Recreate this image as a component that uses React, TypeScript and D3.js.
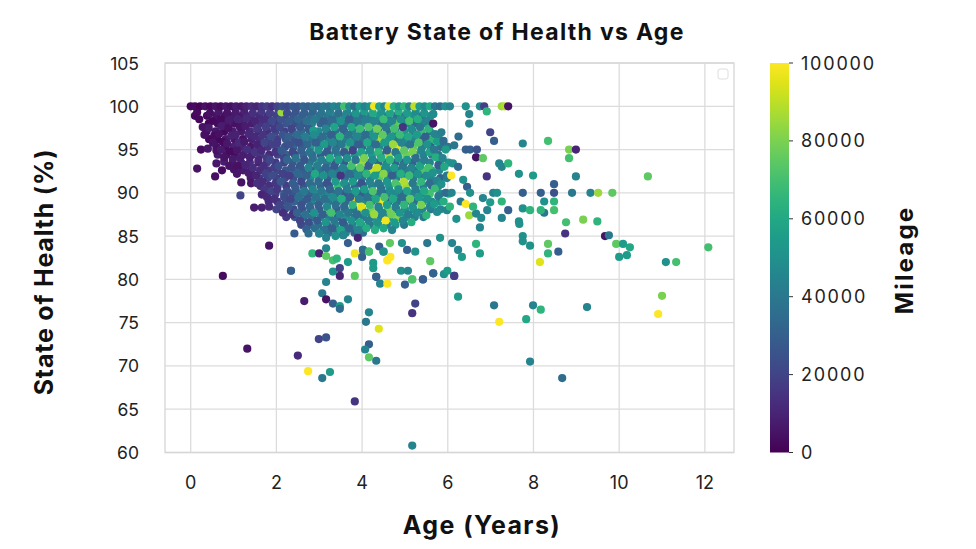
import React from "react";
import * as d3 from "d3";

// each point: [age (years), state of health (%), mileage (thousands)]
type Pt = [number, number, number];

const xTicks = [0, 2, 4, 6, 8, 10, 12];
const yTicks = [60, 65, 70, 75, 80, 85, 90, 95, 100, 105];
const mileageTicks = [0, 20000, 40000, 60000, 80000, 100000];

const topRowPoints: Pt[] = [
  [0.0, 100, 2], [0.1, 100, 3], [0.22, 100, 1], [0.34, 100, 4], [0.46, 100, 2], [0.58, 100, 5],
  [0.7, 100, 3], [0.82, 100, 6], [0.94, 100, 4], [1.06, 100, 8], [1.18, 100, 6], [1.3, 100, 9],
  [1.42, 100, 12], [1.54, 100, 10], [1.66, 100, 15], [1.78, 100, 18], [1.9, 100, 14], [2.02, 100, 20],
  [2.14, 100, 24], [2.26, 100, 22], [2.38, 100, 28], [2.5, 100, 26], [2.62, 100, 32], [2.74, 100, 30],
  [2.86, 100, 36], [2.98, 100, 34], [3.1, 100, 40], [3.22, 100, 38], [3.34, 100, 45], [3.46, 100, 42],
  [3.58, 100, 70], [3.7, 100, 48], [3.82, 100, 36], [3.94, 100, 55], [4.06, 100, 44], [4.18, 100, 50],
  [4.28, 100, 98], [4.4, 100, 58], [4.52, 100, 46], [4.62, 100, 96], [4.74, 100, 62], [4.86, 100, 52],
  [4.98, 100, 66], [5.1, 100, 45], [5.22, 100, 90], [5.34, 100, 55], [5.46, 100, 48], [5.58, 100, 60],
  [5.7, 100, 40], [5.82, 100, 35], [5.94, 100, 50], [6.05, 100, 45], [6.42, 100, 50], [6.75, 100, 48],
  [6.85, 100, 18], [7.26, 100, 85], [7.33, 100, 88], [7.41, 100, 5],
];

const fillYoungPoints: Pt[] = [
  [0.1, 98.9, 2],
  [0.38, 98.9, 3], [0.42, 98.0, 1], [0.37, 97.1, 4], [0.43, 96.2, 2],
  [0.6, 98.9, 5], [0.63, 98.0, 3], [0.58, 97.1, 6], [0.62, 96.2, 2], [0.6, 95.3, 4], [0.63, 94.4, 7],
  [0.8, 98.9, 4], [0.83, 98.0, 6], [0.78, 97.1, 2], [0.82, 96.2, 7], [0.8, 95.3, 3], [0.83, 94.4, 5], [0.78, 93.6, 8],
  [1.0, 98.9, 7], [1.03, 98.0, 4], [0.98, 97.1, 8], [1.02, 96.2, 5], [1.0, 95.3, 9], [1.03, 94.4, 3], [0.98, 93.5, 6],
  [1.01, 92.7, 5],
  [1.2, 98.9, 6], [1.23, 98.0, 9], [1.18, 97.1, 7], [1.22, 96.2, 4], [1.2, 95.3, 10], [1.23, 94.4, 8], [1.18, 93.5, 11],
  [1.22, 92.6, 7],
  [1.4, 98.9, 10], [1.43, 98.0, 8], [1.38, 97.1, 12], [1.42, 96.2, 9], [1.4, 95.3, 6], [1.43, 94.4, 11], [1.38, 93.5, 13],
  [1.42, 92.6, 9], [1.4, 91.7, 7],
  [1.6, 98.9, 12], [1.63, 98.0, 15], [1.58, 97.1, 10], [1.62, 96.2, 14], [1.6, 95.3, 11], [1.63, 94.4, 17], [1.58, 93.5, 9],
  [1.62, 92.6, 13], [1.6, 91.7, 16], [1.63, 90.8, 12],
  [1.8, 98.9, 14], [1.83, 98.0, 17], [1.78, 97.1, 13], [1.82, 96.2, 19], [1.8, 95.3, 15], [1.83, 94.4, 12], [1.78, 93.5, 18],
  [1.82, 92.6, 16], [1.8, 91.7, 20], [1.83, 90.8, 14], [1.78, 89.9, 17], [1.82, 89.0, 12],
  [2.0, 98.9, 19], [2.03, 98.0, 16], [1.98, 97.1, 21], [2.02, 96.2, 18], [2.0, 95.3, 23], [2.03, 94.4, 20], [1.98, 93.5, 17],
  [2.02, 92.6, 22], [2.0, 91.7, 19], [2.03, 90.8, 24], [1.98, 89.9, 18], [2.02, 89.0, 15], [2.0, 88.1, 20],
];

const fillMidPoints: Pt[] = [
  [2.2, 98.9, 22], [2.23, 98.0, 26], [2.18, 97.1, 19], [2.22, 96.2, 28], [2.2, 95.3, 24], [2.23, 94.4, 31], [2.18, 93.5, 20],
  [2.22, 92.6, 27], [2.2, 91.7, 23], [2.23, 90.8, 18], [2.18, 89.9, 29], [2.22, 89.0, 25], [2.2, 88.1, 21], [2.23, 87.2, 17],
  [2.4, 98.9, 27], [2.43, 98.0, 23], [2.38, 97.1, 30], [2.42, 96.2, 25], [2.4, 95.3, 33], [2.43, 94.4, 21], [2.38, 93.5, 28],
  [2.42, 92.6, 35], [2.4, 91.7, 24], [2.43, 90.8, 30], [2.38, 89.9, 26], [2.42, 89.0, 32], [2.4, 88.1, 22], [2.43, 87.2, 28],
  [2.6, 98.9, 30], [2.63, 98.0, 26], [2.58, 97.1, 34], [2.62, 96.2, 38], [2.6, 95.3, 28], [2.63, 94.4, 32], [2.58, 93.5, 45],
  [2.62, 92.6, 29], [2.6, 91.7, 36], [2.63, 90.8, 27], [2.58, 89.9, 40], [2.62, 89.0, 31], [2.6, 88.1, 25], [2.63, 87.2, 34],
  [2.58, 86.3, 22],
  [2.8, 98.9, 35], [2.83, 98.0, 42], [2.78, 97.1, 30], [2.82, 96.2, 38], [2.8, 95.3, 55], [2.83, 94.4, 33], [2.78, 93.5, 40],
  [2.82, 92.6, 29], [2.8, 91.7, 48], [2.83, 90.8, 36], [2.78, 89.9, 31], [2.82, 89.0, 44], [2.8, 88.1, 27], [2.83, 87.2, 38],
  [2.78, 86.3, 33],
  [3.0, 98.9, 38], [3.03, 98.0, 33], [2.98, 97.1, 47], [3.02, 96.2, 35], [3.0, 95.3, 42], [3.03, 94.4, 28], [2.98, 93.5, 60],
  [3.02, 92.6, 37], [3.0, 91.7, 45], [3.03, 90.8, 32], [2.98, 89.9, 50], [3.02, 89.0, 39], [3.0, 88.1, 30], [3.03, 87.2, 44],
  [2.98, 86.3, 36],
  [3.2, 98.9, 40], [3.23, 98.0, 34], [3.18, 97.1, 36], [3.22, 96.2, 45], [3.2, 95.3, 30], [3.23, 94.4, 40], [3.18, 93.5, 41],
  [3.22, 92.6, 35], [3.2, 91.7, 30], [3.23, 90.8, 28], [3.18, 89.9, 46], [3.22, 89.0, 38], [3.2, 88.1, 72], [3.23, 87.2, 42],
  [3.18, 86.3, 33], [3.22, 85.4, 36],
  [3.4, 98.9, 45], [3.43, 98.0, 38], [3.38, 97.1, 36], [3.42, 96.2, 33], [3.4, 95.3, 32], [3.43, 94.4, 42], [3.38, 93.5, 25],
  [3.42, 92.6, 40], [3.4, 91.7, 40], [3.43, 90.8, 68], [3.38, 89.9, 35], [3.42, 89.0, 47], [3.4, 88.1, 30], [3.43, 87.2, 30],
  [3.38, 86.3, 44], [3.42, 85.4, 38],
  [3.6, 98.9, 48], [3.63, 98.0, 35], [3.58, 97.1, 32], [3.62, 96.2, 42], [3.6, 95.3, 70], [3.63, 94.4, 30], [3.58, 93.5, 28],
  [3.62, 92.6, 45], [3.6, 91.7, 38], [3.63, 90.8, 38], [3.58, 89.9, 28], [3.62, 89.0, 34], [3.6, 88.1, 42], [3.63, 87.2, 50],
  [3.58, 86.3, 35], [3.62, 85.4, 46],
  [3.8, 98.9, 40], [3.83, 98.0, 36], [3.78, 97.1, 45], [3.82, 96.2, 40], [3.8, 95.3, 35], [3.83, 94.4, 52], [3.78, 93.5, 80],
  [3.82, 92.6, 44], [3.8, 91.7, 30], [3.83, 90.8, 33], [3.78, 89.9, 48], [3.82, 89.0, 100], [3.8, 88.1, 38], [3.83, 87.2, 38],
  [3.78, 86.3, 45], [3.82, 85.4, 32],
  [4.0, 98.9, 38], [4.03, 98.0, 45], [3.98, 97.1, 44], [4.02, 96.2, 38], [4.0, 95.3, 34], [4.03, 94.4, 50], [3.98, 93.5, 85],
  [4.02, 92.6, 42], [4.0, 91.7, 40], [4.03, 90.8, 35], [3.98, 89.9, 30], [4.02, 89.0, 46], [4.0, 88.1, 75], [4.03, 87.2, 40],
  [3.98, 86.3, 52], [4.02, 85.4, 36],
];

const fillOldPoints: Pt[] = [
  [4.2, 98.9, 42], [4.23, 98.0, 48], [4.18, 97.1, 52], [4.22, 96.2, 42], [4.2, 95.3, 38], [4.23, 94.4, 55], [4.18, 93.5, 38],
  [4.22, 92.6, 92], [4.2, 91.7, 50], [4.23, 90.8, 44], [4.18, 89.9, 45], [4.22, 89.0, 34], [4.2, 88.1, 80], [4.23, 87.2, 48],
  [4.18, 86.3, 40],
  [4.4, 98.9, 52], [4.43, 98.0, 36], [4.38, 97.1, 44], [4.42, 96.2, 85], [4.4, 95.3, 46], [4.43, 94.4, 36], [4.38, 93.5, 30],
  [4.42, 92.6, 50], [4.4, 91.7, 75], [4.43, 90.8, 42], [4.38, 89.9, 38], [4.42, 89.0, 98], [4.4, 88.1, 48], [4.43, 87.2, 44],
  [4.38, 86.3, 55],
  [4.6, 98.9, 40], [4.63, 98.0, 48], [4.58, 97.1, 35], [4.62, 96.2, 55], [4.6, 95.3, 40], [4.63, 94.4, 88], [4.58, 93.5, 42],
  [4.62, 92.6, 45], [4.6, 91.7, 50], [4.63, 90.8, 52], [4.58, 89.9, 35], [4.62, 89.0, 30], [4.6, 88.1, 78], [4.63, 87.2, 50],
  [4.58, 86.3, 44],
  [4.8, 98.9, 36], [4.83, 98.0, 75], [4.78, 97.1, 45], [4.82, 96.2, 40], [4.8, 95.3, 95], [4.83, 94.4, 50], [4.78, 93.5, 32],
  [4.82, 92.6, 40], [4.8, 91.7, 46], [4.83, 90.8, 72], [4.78, 89.9, 48], [4.82, 89.0, 38], [4.8, 88.1, 44], [4.83, 87.2, 82],
  [4.78, 86.3, 52],
  [5.0, 98.9, 38], [5.03, 98.0, 45], [4.98, 97.1, 52], [5.02, 96.2, 52], [5.0, 95.3, 40], [5.03, 94.4, 78], [4.98, 93.5, 30],
  [5.02, 92.6, 42], [5.0, 91.7, 48], [5.03, 90.8, 85], [4.98, 89.9, 36], [5.02, 89.0, 42], [5.0, 88.1, 50], [5.03, 87.2, 50],
  [4.98, 86.3, 40],
  [5.2, 98.9, 50], [5.23, 98.0, 35], [5.18, 97.1, 42], [5.22, 96.2, 46], [5.2, 95.3, 75], [5.23, 94.4, 48], [5.18, 93.5, 32],
  [5.22, 92.6, 38], [5.2, 91.7, 42], [5.23, 90.8, 70], [5.18, 89.9, 45], [5.22, 89.0, 36], [5.2, 88.1, 52], [5.23, 87.2, 44],
  [5.4, 98.9, 38], [5.43, 98.0, 45], [5.38, 97.1, 68], [5.42, 96.2, 30], [5.4, 95.3, 40], [5.43, 94.4, 44], [5.38, 93.5, 48],
  [5.42, 92.6, 72], [5.4, 91.7, 36], [5.43, 90.8, 44], [5.38, 89.9, 48], [5.42, 89.0, 50], [5.4, 88.1, 46], [5.43, 87.2, 40],
  [5.6, 98.9, 48], [5.63, 98.0, 36], [5.58, 97.1, 42], [5.62, 96.2, 65], [5.6, 95.3, 30], [5.63, 94.4, 38], [5.58, 93.5, 44],
  [5.62, 92.6, 62], [5.6, 91.7, 45], [5.63, 90.8, 34], [5.58, 89.9, 70], [5.62, 89.0, 48], [5.6, 88.1, 40],
  [5.8, 96.2, 45], [5.83, 95.3, 36], [5.78, 94.4, 38], [5.82, 93.5, 60], [5.8, 92.6, 48], [5.83, 91.7, 32], [5.78, 90.8, 42],
  [5.82, 89.9, 48], [5.8, 89.0, 50], [5.83, 88.1, 46],
  [6.0, 95.3, 40], [6.02, 93.5, 52], [5.98, 91.7, 45], [6.02, 89.9, 58],
];

const youngPoints: Pt[] = [
  [0.15, 99.3, 3], [0.2, 98.5, 2], [0.28, 97.6, 5], [0.32, 96.7, 4], [0.24, 95.0, 3], [0.4, 95.1, 6],
  [0.45, 99.2, 4], [0.5, 98.3, 2], [0.42, 97.5, 7], [0.55, 96.6, 3], [0.52, 95.8, 5], [0.6, 94.9, 4],
  [0.6, 93.4, 6], [0.15, 92.8, 5], [0.57, 91.9, 4],
  [0.65, 99.4, 6], [0.7, 98.5, 3], [0.72, 97.7, 8], [0.66, 96.8, 4], [0.75, 95.9, 2], [0.7, 95.0, 7],
  [0.78, 94.1, 5], [0.73, 92.6, 3],
  [0.85, 99.2, 5], [0.9, 98.4, 8], [0.88, 97.5, 4], [0.95, 96.6, 9], [0.85, 95.7, 6], [0.92, 94.8, 3],
  [0.98, 93.9, 7], [0.9, 93.1, 5],
  [1.05, 99.3, 7], [1.1, 98.5, 10], [1.15, 97.6, 5], [1.05, 96.7, 9], [1.12, 95.8, 11], [1.08, 94.9, 6],
  [1.15, 94.0, 8], [1.1, 93.1, 4], [1.08, 92.2, 6], [1.18, 91.2, 5],
  [1.25, 99.4, 9], [1.3, 98.6, 12], [1.28, 97.7, 8], [1.35, 96.8, 11], [1.25, 95.9, 7], [1.32, 95.0, 13],
  [1.38, 94.1, 9], [1.28, 93.2, 10], [1.35, 92.3, 8], [1.41, 91.1, 6],
  [1.45, 99.2, 14], [1.5, 98.3, 10], [1.55, 97.4, 16], [1.48, 96.5, 12], [1.55, 95.6, 9], [1.5, 94.7, 15],
  [1.58, 93.8, 11], [1.45, 92.9, 13], [1.52, 92.0, 10], [1.55, 91.1, 14], [1.16, 89.7, 20], [1.48, 88.3, 8],
  [1.65, 99.4, 16], [1.7, 98.5, 13], [1.75, 97.6, 18], [1.68, 96.7, 15], [1.72, 95.8, 20], [1.65, 94.9, 12],
  [1.78, 94.0, 17], [1.7, 93.1, 14], [1.75, 92.2, 19], [1.68, 91.3, 13], [1.72, 90.4, 16], [1.66, 89.8, 10],
  [1.66, 88.3, 9], [1.78, 89.5, 11],
  [1.85, 99.2, 18], [1.9, 98.3, 22], [1.95, 97.4, 17], [1.88, 96.5, 24], [1.92, 95.6, 19], [1.98, 94.7, 15],
  [1.85, 93.8, 21], [1.95, 92.9, 18], [1.9, 92.0, 23], [1.98, 91.1, 16], [1.88, 90.2, 20], [1.95, 89.3, 14],
  [1.83, 88.4, 12], [1.83, 83.9, 5], [0.75, 80.4, 3], [1.32, 72.0, 5],
];

const midPoints: Pt[] = [
  [2.05, 99.4, 20], [2.1, 98.5, 25], [2.12, 99.3, 85], [2.08, 97.6, 22], [2.15, 96.7, 26], [2.02, 95.8, 18],
  [2.12, 94.9, 28], [2.18, 94.0, 21], [2.05, 93.1, 24], [2.15, 92.2, 19], [2.1, 91.3, 27], [2.02, 90.4, 16],
  [2.18, 89.5, 23], [2.08, 88.6, 20], [2.15, 87.7, 14],
  [2.25, 99.2, 24], [2.3, 98.3, 28], [2.35, 97.4, 20], [2.28, 96.5, 30], [2.32, 95.6, 25], [2.38, 94.7, 22],
  [2.25, 93.8, 32], [2.35, 92.9, 26], [2.3, 92.0, 18], [2.38, 91.1, 29], [2.25, 90.2, 24], [2.33, 89.3, 21],
  [2.28, 88.4, 27], [2.38, 87.5, 15], [2.34, 81.0, 30],
  [2.45, 99.4, 26], [2.5, 98.5, 32], [2.55, 97.6, 28], [2.48, 96.7, 35], [2.52, 95.8, 24], [2.58, 94.9, 30],
  [2.45, 94.0, 38], [2.55, 93.1, 27], [2.5, 92.2, 33], [2.58, 91.3, 22], [2.45, 90.4, 29], [2.52, 89.5, 36],
  [2.58, 88.6, 25], [2.48, 87.7, 31], [2.55, 86.8, 20], [2.42, 85.3, 28], [2.5, 71.2, 12], [2.65, 77.5, 8],
  [2.65, 99.2, 30], [2.7, 98.3, 36], [2.75, 97.4, 28], [2.68, 96.5, 42], [2.72, 95.6, 33], [2.78, 94.7, 38],
  [2.65, 93.8, 26], [2.75, 92.9, 45], [2.7, 92.0, 31], [2.78, 91.1, 35], [2.65, 90.2, 40], [2.72, 89.3, 28],
  [2.78, 88.4, 33], [2.68, 87.5, 37], [2.75, 86.6, 24], [2.7, 85.8, 30], [2.75, 85.3, 35], [2.74, 69.4, 100],
  [2.85, 99.4, 32], [2.9, 98.5, 40], [2.86, 97.2, 55], [2.88, 96.7, 48], [2.92, 95.8, 30], [2.98, 94.9, 52],
  [2.85, 94.0, 36], [2.95, 93.1, 42], [2.9, 92.2, 60], [2.98, 91.3, 34], [2.85, 90.4, 45], [2.92, 89.5, 38],
  [2.98, 88.6, 30], [2.88, 87.7, 50], [2.95, 86.8, 28], [2.9, 85.9, 36], [3.0, 85.3, 48], [2.84, 83.0, 65],
  [3.0, 83.0, 10], [2.99, 73.1, 20],
  [3.05, 99.2, 38], [3.1, 98.3, 30], [3.15, 97.4, 45], [3.08, 96.5, 35], [3.12, 95.6, 55], [3.18, 94.7, 28],
  [3.05, 93.8, 42], [3.15, 92.9, 33], [3.1, 92.0, 50], [3.18, 91.1, 25], [3.05, 90.2, 40], [3.12, 89.3, 36],
  [3.18, 88.4, 47], [3.08, 87.5, 30], [3.15, 86.6, 52], [3.1, 85.7, 38], [3.16, 84.8, 44], [3.16, 83.6, 45],
  [3.07, 78.4, 40], [3.16, 79.7, 45], [3.16, 77.7, 5], [3.16, 82.7, 75], [3.07, 68.6, 40], [3.16, 73.3, 25],
  [3.25, 69.3, 55],
  [3.25, 99.4, 42], [3.3, 98.5, 35], [3.35, 97.6, 58], [3.28, 96.7, 30], [3.32, 95.8, 46], [3.38, 94.9, 38],
  [3.25, 94.0, 62], [3.35, 93.1, 28], [3.3, 92.2, 44], [3.38, 91.3, 55], [3.25, 90.4, 32], [3.32, 89.5, 48],
  [3.38, 88.6, 36], [3.28, 87.7, 70], [3.35, 86.8, 40], [3.3, 85.9, 30], [3.38, 85.0, 50], [3.32, 82.2, 70],
  [3.32, 80.9, 50], [3.32, 77.2, 30],
  [3.45, 99.2, 36], [3.5, 98.3, 50], [3.55, 97.4, 32], [3.48, 96.5, 65], [3.52, 95.6, 40], [3.58, 94.7, 28],
  [3.45, 93.8, 55], [3.55, 92.9, 44], [3.5, 92.0, 15], [3.58, 91.1, 50], [3.45, 90.2, 38], [3.52, 89.3, 62],
  [3.58, 88.4, 34], [3.48, 87.5, 45], [3.55, 86.6, 28], [3.5, 85.7, 58], [3.56, 85.1, 45], [3.41, 82.4, 65],
  [3.48, 81.3, 20], [3.48, 80.4, 10], [3.48, 76.9, 55], [3.48, 76.6, 35],
  [3.65, 99.4, 45], [3.7, 98.5, 30], [3.75, 97.6, 60], [3.68, 96.7, 38], [3.72, 95.8, 52], [3.78, 94.9, 20],
  [3.65, 94.0, 48], [3.75, 93.1, 70], [3.7, 92.2, 35], [3.78, 91.3, 55], [3.65, 90.4, 42], [3.72, 89.5, 30],
  [3.78, 88.6, 65], [3.68, 87.7, 40], [3.75, 86.8, 50], [3.7, 85.9, 33], [3.67, 84.2, 30], [3.67, 82.0, 55],
  [3.67, 77.7, 45],
  [3.85, 99.2, 52], [3.9, 98.3, 40], [3.95, 97.4, 68], [3.88, 96.5, 45], [3.92, 95.6, 30], [3.98, 94.7, 58],
  [3.85, 93.8, 38], [3.95, 92.9, 75], [3.9, 92.0, 48], [3.98, 91.1, 25], [3.85, 90.2, 55], [3.92, 89.3, 42],
  [3.98, 88.4, 95], [3.88, 87.5, 36], [3.95, 86.6, 60], [3.9, 85.7, 45], [3.9, 84.8, 10], [3.83, 83.0, 98],
  [3.83, 80.4, 75], [3.83, 65.9, 15],
];

const olderPoints: Pt[] = [
  [4.05, 99.4, 55], [4.1, 98.5, 42], [4.15, 97.6, 72], [4.08, 96.7, 35], [4.12, 95.8, 60], [4.18, 94.9, 48],
  [4.05, 94.0, 80], [4.15, 93.1, 30], [4.1, 92.2, 65], [4.18, 91.3, 45], [4.05, 90.4, 55], [4.12, 89.5, 38],
  [4.18, 88.6, 70], [4.08, 87.7, 50], [4.15, 86.8, 42], [4.1, 85.9, 62], [4.02, 83.4, 30], [4.16, 83.2, 65],
  [4.0, 82.6, 30], [4.16, 76.2, 45], [4.09, 75.1, 40], [4.16, 72.5, 30], [4.07, 71.9, 45], [4.16, 71.0, 75],
  [4.25, 99.2, 60], [4.3, 98.3, 45], [4.35, 97.4, 78], [4.28, 96.5, 52], [4.32, 95.6, 35], [4.38, 94.7, 66],
  [4.25, 93.8, 48], [4.35, 92.9, 90], [4.3, 92.0, 55], [4.38, 91.1, 40], [4.25, 90.2, 72], [4.32, 89.3, 58],
  [4.38, 88.4, 44], [4.28, 87.5, 85], [4.35, 86.6, 50], [4.3, 85.7, 62], [4.4, 83.8, 30], [4.26, 81.9, 55],
  [4.26, 81.3, 55], [4.33, 80.3, 30], [4.42, 79.5, 45], [4.39, 74.3, 95], [4.33, 70.6, 40],
  [4.45, 99.4, 50], [4.5, 98.5, 68], [4.55, 97.6, 40], [4.48, 96.7, 75], [4.52, 95.8, 55], [4.58, 94.9, 30],
  [4.45, 94.0, 62], [4.55, 93.1, 48], [4.5, 92.2, 82], [4.58, 91.3, 52], [4.45, 90.4, 38], [4.52, 89.5, 70],
  [4.58, 88.6, 56], [4.48, 87.7, 45], [4.55, 86.8, 98], [4.5, 85.9, 60], [4.5, 83.2, 45], [4.59, 82.2, 100],
  [4.66, 82.6, 100], [4.59, 79.5, 100],
  [4.65, 99.2, 58], [4.7, 98.3, 45], [4.75, 97.4, 70], [4.68, 96.5, 52], [4.72, 95.6, 85], [4.78, 94.7, 40],
  [4.65, 93.8, 65], [4.75, 92.9, 55], [4.7, 92.0, 30], [4.78, 91.1, 72], [4.65, 90.2, 48], [4.72, 89.3, 60],
  [4.78, 88.4, 42], [4.68, 87.5, 78], [4.75, 86.6, 55], [4.7, 85.7, 45], [4.65, 84.2, 75],
  [4.85, 99.4, 62], [4.9, 98.5, 50], [4.95, 97.6, 15], [4.88, 96.7, 68], [4.92, 95.8, 45], [4.98, 94.9, 75],
  [4.85, 94.0, 55], [4.95, 93.1, 40], [4.9, 92.2, 62], [4.98, 91.3, 88], [4.85, 90.4, 50], [4.92, 89.5, 35],
  [4.98, 88.6, 65], [4.88, 87.7, 52], [4.95, 86.8, 45], [4.93, 84.2, 50], [4.91, 81.0, 50], [5.0, 79.4, 30],
  [5.05, 99.2, 55], [5.1, 98.3, 70], [5.15, 97.4, 48], [5.08, 96.5, 60], [5.12, 95.6, 38], [5.18, 94.7, 80],
  [5.05, 93.8, 52], [5.15, 92.9, 45], [5.1, 92.0, 68], [5.18, 91.1, 40], [5.05, 90.2, 58], [5.12, 89.3, 75],
  [5.18, 88.4, 50], [5.08, 87.5, 42], [5.15, 86.6, 62], [5.05, 83.4, 30], [5.07, 81.0, 45], [5.17, 80.0, 70],
  [5.17, 60.8, 45], [5.24, 77.2, 20], [5.17, 76.1, 15],
  [5.25, 99.4, 48], [5.3, 98.5, 62], [5.35, 97.6, 40], [5.28, 96.7, 55], [5.32, 95.8, 72], [5.38, 94.9, 45],
  [5.25, 94.0, 35], [5.35, 93.1, 58], [5.3, 92.2, 50], [5.38, 91.3, 66], [5.25, 90.4, 42], [5.32, 89.5, 55],
  [5.38, 88.6, 80], [5.28, 87.7, 48], [5.24, 83.2, 50], [5.42, 80.0, 30],
  [5.45, 99.2, 52], [5.5, 98.3, 45], [5.55, 97.4, 65], [5.48, 96.5, 30], [5.52, 95.6, 50], [5.58, 94.7, 58],
  [5.45, 93.8, 42], [5.55, 92.9, 70], [5.5, 92.0, 48], [5.58, 91.1, 35], [5.45, 90.2, 60], [5.52, 89.3, 50],
  [5.58, 88.4, 45], [5.5, 87.4, 65], [5.52, 84.2, 40], [5.59, 82.1, 75],
  [5.66, 99.1, 50], [5.66, 98.0, 5], [5.7, 96.8, 45], [5.75, 95.9, 55], [5.68, 95.0, 40], [5.72, 94.1, 62],
  [5.78, 93.2, 30], [5.65, 92.3, 50], [5.75, 91.4, 45], [5.7, 90.5, 68], [5.78, 89.6, 40], [5.68, 88.7, 55],
  [5.75, 87.8, 48], [5.66, 80.7, 30],
  [5.85, 97.0, 42], [5.9, 96.0, 35], [5.95, 95.0, 55], [5.88, 94.0, 45], [5.92, 93.0, 60], [5.98, 92.0, 40],
  [5.85, 91.0, 50], [5.95, 90.0, 35], [5.9, 89.0, 62], [5.98, 88.0, 45], [5.82, 84.8, 50], [5.91, 80.6, 50],
  [5.99, 81.0, 55],
  [6.12, 93.4, 50], [6.24, 93.0, 35], [6.36, 91.5, 50], [6.45, 90.7, 30], [6.09, 90.0, 45], [6.52, 90.0, 50],
  [6.05, 88.4, 65], [6.08, 92.0, 100], [6.1, 84.2, 45], [6.15, 95.5, 40], [6.25, 96.5, 35], [6.3, 89.0, 40],
  [6.42, 88.7, 100], [6.5, 87.4, 85], [6.2, 87.0, 50], [6.24, 83.4, 45], [6.33, 82.6, 55], [6.15, 80.4, 20],
  [6.24, 78.0, 55],
];

const farPoints: Pt[] = [
  [6.42, 95.0, 30], [6.52, 95.0, 30], [6.68, 95.0, 25], [6.66, 94.1, 5], [6.82, 94.0, 75], [6.5, 99.1, 45],
  [6.5, 98.0, 45], [6.91, 99.4, 65], [5.66, 99.1, 48],
  [6.66, 87.6, 45], [6.78, 87.1, 48], [6.92, 88.0, 45], [6.99, 88.9, 55], [6.82, 89.4, 45], [6.59, 88.4, 65],
  [6.75, 86.0, 45], [6.91, 91.9, 15], [6.99, 97.0, 20], [7.08, 96.0, 30], [7.06, 90.0, 45], [7.15, 90.0, 50],
  [7.26, 89.0, 65], [7.41, 88.0, 30], [7.26, 87.1, 45], [7.2, 93.4, 45], [7.26, 93.0, 45], [7.41, 93.4, 65],
  [6.75, 83.0, 55], [6.66, 84.1, 65], [7.08, 77.0, 40], [7.2, 75.1, 100],
  [7.75, 95.7, 45], [8.34, 96.0, 70], [8.83, 95.0, 80], [8.99, 95.0, 10], [8.83, 94.0, 70], [10.67, 91.9, 75],
  [7.66, 92.2, 50], [7.99, 92.0, 55], [8.99, 91.9, 45], [8.48, 91.0, 30], [7.75, 90.0, 30], [8.17, 90.0, 30],
  [8.48, 90.0, 25], [8.9, 90.0, 40], [9.33, 90.0, 45], [9.51, 90.0, 85], [9.84, 90.0, 75], [8.25, 89.0, 50],
  [8.48, 89.0, 65], [7.75, 88.2, 50], [7.92, 88.0, 65], [8.25, 87.7, 40], [8.17, 88.0, 65], [8.48, 88.0, 70],
  [7.66, 86.7, 50], [7.67, 86.4, 50], [8.76, 86.6, 70], [9.16, 86.9, 80], [9.49, 86.7, 65], [8.74, 85.3, 15],
  [9.67, 85.0, 5], [9.76, 85.1, 40], [7.75, 85.0, 50], [7.75, 84.4, 50], [7.92, 83.9, 50], [8.34, 84.1, 75],
  [8.34, 83.0, 65], [8.58, 83.2, 30], [8.15, 82.0, 95], [9.93, 84.1, 75], [10.09, 84.1, 55], [10.25, 83.7, 60],
  [10.0, 82.6, 55], [10.18, 82.8, 55], [12.08, 83.7, 70], [11.09, 82.0, 50], [11.33, 82.0, 70], [11.0, 78.1, 80],
  [10.91, 76.0, 100], [7.99, 77.0, 45], [8.17, 76.5, 65], [7.83, 75.4, 60], [9.25, 76.8, 45], [7.92, 70.5, 45],
  [8.67, 68.6, 35],
  [2.34, 81.0, 30], [3.0, 85.3, 45], [3.56, 85.1, 45], [4.02, 83.4, 35], [4.16, 83.2, 70], [4.5, 83.2, 50],
  [4.33, 80.3, 30], [5.66, 80.7, 32], [6.15, 80.4, 18], [5.42, 80.0, 30], [5.17, 80.0, 72], [4.59, 82.2, 100],
];

const font = "Inter, 'Noto Sans', sans-serif";
const plot = { left: 165, right: 734, top: 63, bottom: 452.5 };
const bar = { left: 770, right: 789, top: 63, bottom: 452.5 };

export default function App() {
  const x = d3.scaleLinear().domain([-0.6, 12.68]).range([plot.left, plot.right]);
  const y = d3.scaleLinear().domain([60, 105]).range([plot.bottom, plot.top]);
  const color = d3.scaleSequential(d3.interpolateViridis).domain([0, 100000]);
  const cb = d3.scaleLinear().domain([0, 100000]).range([bar.bottom, bar.top]);

  const points = [
    ...fillYoungPoints, ...fillMidPoints, ...fillOldPoints,
    ...youngPoints, ...midPoints, ...olderPoints,
    ...topRowPoints, ...farPoints,
  ];
  const stops = d3.range(0, 1.0001, 0.05);

  return (
    <svg width={976} height={549} style={{ position: "absolute", left: 0, top: 0, background: "#fff" }} fontFamily={font}>
      <defs>
        <linearGradient id="viridis" x1="0" y1="1" x2="0" y2="0">
          {stops.map((t) => (
            <stop key={t} offset={t} stopColor={d3.interpolateViridis(t)} />
          ))}
        </linearGradient>
        <clipPath id="plotClip">
          <rect x={plot.left} y={plot.top} width={plot.right - plot.left} height={plot.bottom - plot.top} />
        </clipPath>
      </defs>

      <text x={497} y={39.5} textAnchor="middle" fontSize={23} fontWeight={700} letterSpacing={1.3} fill="#111">
        Battery State of Health vs Age
      </text>

      {/* grid */}
      {xTicks.map((t) => (
        <line key={"gx" + t} x1={x(t)} x2={x(t)} y1={plot.top} y2={plot.bottom} stroke="#dcdcdc" strokeWidth={1.3} />
      ))}
      {yTicks.map((t) => (
        <line key={"gy" + t} x1={plot.left} x2={plot.right} y1={y(t)} y2={y(t)} stroke="#dcdcdc" strokeWidth={1.3} />
      ))}
      <rect x={plot.left} y={plot.top} width={plot.right - plot.left} height={plot.bottom - plot.top}
        fill="none" stroke="#d6d6d6" strokeWidth={1.3} />

      <g clipPath="url(#plotClip)">
        {points.map((d, i) => (
          <circle key={i} cx={x(d[0])} cy={y(d[1])} r={4.1} fill={color(d[2] * 1000)} />
        ))}
      </g>

      {/* empty legend frame */}
      <rect x={718} y={69} width={10} height={10} rx={2} fill="#fff" stroke="#dedede" strokeWidth={1} />

      {/* axis tick labels */}
      {xTicks.map((t) => (
        <text key={"tx" + t} x={x(t)} y={489} textAnchor="middle" fontSize={18} fill="#222">{t}</text>
      ))}
      {yTicks.map((t) => (
        <text key={"ty" + t} x={139} y={y(t) + 6.5} textAnchor="end" fontSize={17.5} fill="#222">{t}</text>
      ))}

      <text x={482} y={534} textAnchor="middle" fontSize={25} fontWeight={700} letterSpacing={1.4} fill="#111">
        Age (Years)
      </text>
      <text transform="translate(53,272) rotate(-90)" textAnchor="middle" fontSize={25} fontWeight={700}
        letterSpacing={0.8} fill="#111">
        State of Health (%)
      </text>

      {/* colorbar */}
      <rect x={bar.left} y={bar.top} width={bar.right - bar.left} height={bar.bottom - bar.top} fill="url(#viridis)" />
      {mileageTicks.map((t) => (
        <g key={"cb" + t}>
          <line x1={bar.right} x2={bar.right + 4} y1={cb(t)} y2={cb(t)} stroke="#333" strokeWidth={1} />
          <text x={801} y={cb(t) + 6.5} fontSize={18} letterSpacing={1.8} fill="#222">{t}</text>
        </g>
      ))}
      <text transform="translate(913,260) rotate(-90)" textAnchor="middle" fontSize={24} fontWeight={700}
        letterSpacing={2.2} fill="#111">
        Mileage
      </text>
    </svg>
  );
}
